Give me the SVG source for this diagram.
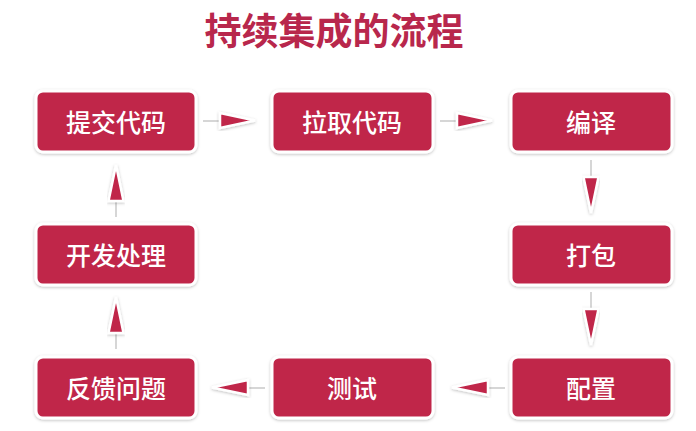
<svg xmlns="http://www.w3.org/2000/svg" width="696" height="431" viewBox="0 0 696 431">
<defs>
<filter id="sh" x="-10%" y="-20%" width="120%" height="140%">
<feDropShadow dx="0" dy="1" stdDeviation="1.5" flood-color="#000" flood-opacity="0.25"/>
</filter>
<style>
.box{fill:#c0264a;stroke:#fff;stroke-width:3;filter:url(#sh)}
.lbl{fill:#fff;font-family:"Noto Sans CJK SC","Noto Sans",sans-serif;font-size:25px;font-weight:500;text-anchor:middle;dominant-baseline:central}
.tri{fill:#c0264a;stroke:#fff;stroke-width:2.5;stroke-linejoin:miter;filter:url(#sh)}
.ln{stroke:#d6d6d6;stroke-width:2;fill:none}
.title{fill:#b8274c;font-family:"Noto Sans CJK SC","Noto Sans",sans-serif;font-size:37px;font-weight:700;text-anchor:middle}
</style>
</defs>
<rect width="696" height="431" fill="#fff"/>
<text class="title" x="334" y="45">持续集成的流程</text>
<g id="connectors">
<line class="ln" x1="203" y1="121" x2="221" y2="121"/>
<polygon class="tri" points="220,113 255,120.5 220,128"/>
<line class="ln" x1="440" y1="121" x2="458" y2="121"/>
<polygon class="tri" points="457,113 492,120.5 457,128"/>
<line class="ln" x1="591" y1="160" x2="591" y2="177"/>
<polygon class="tri" points="583.5,177 591,213 598.5,177"/>
<line class="ln" x1="591" y1="292" x2="591" y2="309"/>
<polygon class="tri" points="583.5,309 591,345 598.5,309"/>
<line class="ln" x1="505" y1="388" x2="487" y2="388"/>
<polygon class="tri" points="488,380 452,387.5 488,395"/>
<line class="ln" x1="265" y1="388" x2="247" y2="388"/>
<polygon class="tri" points="248,380 212,387.5 248,395"/>
<line class="ln" x1="116" y1="349" x2="116" y2="332"/>
<polygon class="tri" points="108.5,333 116,297 123.5,333"/>
<line class="ln" x1="116" y1="217" x2="116" y2="200"/>
<polygon class="tri" points="108.5,201 116,165 123.5,201"/>
</g>
<g id="n1"><rect class="box" x="36" y="91" width="160" height="61" rx="7"/><text class="lbl" x="116" y="121">提交代码</text></g>
<g id="n2"><rect class="box" x="272" y="91" width="161" height="61" rx="7"/><text class="lbl" x="352" y="121">拉取代码</text></g>
<g id="n3"><rect class="box" x="511" y="91" width="161" height="61" rx="7"/><text class="lbl" x="591" y="121">编译</text></g>
<g id="n4"><rect class="box" x="511" y="224" width="161" height="61" rx="7"/><text class="lbl" x="591" y="254">打包</text></g>
<g id="n5"><rect class="box" x="511" y="357" width="161" height="61" rx="7"/><text class="lbl" x="591" y="387">配置</text></g>
<g id="n6"><rect class="box" x="272" y="357" width="161" height="61" rx="7"/><text class="lbl" x="352" y="387">测试</text></g>
<g id="n7"><rect class="box" x="36" y="357" width="160" height="61" rx="7"/><text class="lbl" x="116" y="387">反馈问题</text></g>
<g id="n8"><rect class="box" x="36" y="224" width="160" height="61" rx="7"/><text class="lbl" x="116" y="254">开发处理</text></g>
</svg>
